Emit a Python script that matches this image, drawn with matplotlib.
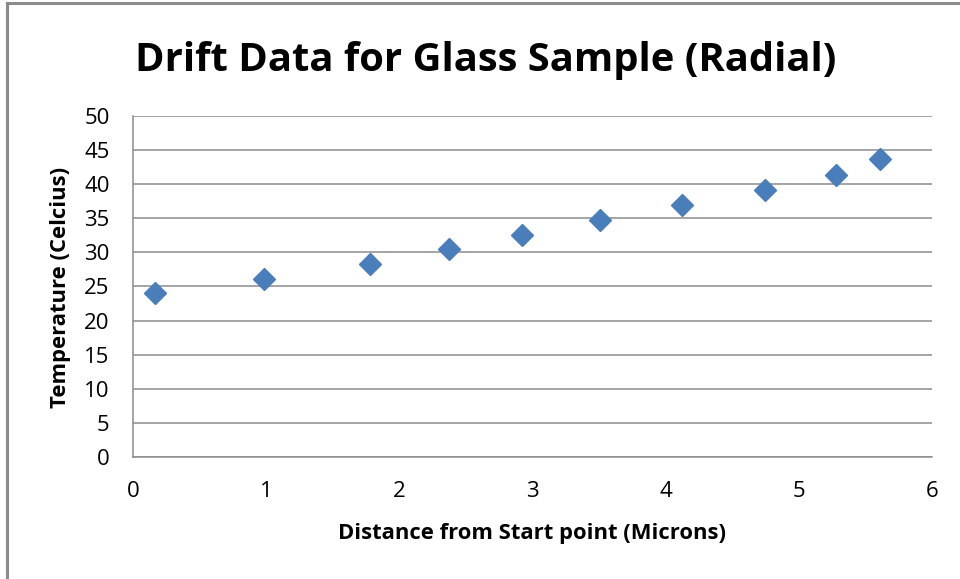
import numpy as np
import matplotlib.pyplot as plt
from matplotlib.lines import Line2D

plt.rcParams['font.family'] = ['Open Sans', 'DejaVu Sans']

# distance from start point (microns) vs temperature (celsius)
distance = [0.16, 0.98, 1.78, 2.37, 2.92, 3.51, 4.12, 4.75, 5.28, 5.61]
temperature = [24.1, 26.1, 28.3, 30.5, 32.6, 34.7, 36.9, 39.2, 41.4, 43.7]

x_ticks = [0, 1, 2, 3, 4, 5, 6]
y_ticks = [0, 5, 10, 15, 20, 25, 30, 35, 40, 45, 50]

fig = plt.figure(figsize=(9.6, 5.79), dpi=100)
ax = fig.add_axes([0.1389, 0.2107, 0.8316, 0.589])

ax.plot(distance, temperature, linestyle='none', marker='D', markersize=11.5,
        color='#4A7EBB', markeredgecolor='#4A7EBB', zorder=3)

ax.set_xlim(0, 6)
ax.set_ylim(0, 50)
ax.set_xticks(x_ticks)
ax.set_yticks(y_ticks)
ax.tick_params(length=0, labelsize=16, colors='#000000')
ax.tick_params(axis='y', pad=17)
ax.tick_params(axis='x', pad=17)
ax.yaxis.grid(True, color='#8C8C8C', linewidth=1.1)
ax.set_axisbelow(True)
for side in ['top', 'right']:
    ax.spines[side].set_visible(False)
for side in ['left', 'bottom']:
    ax.spines[side].set_color('#8C8C8C')
    ax.spines[side].set_linewidth(1.1)

ax.set_xlabel('Distance from Start point (Microns)', fontsize=15.8, fontweight='bold', va='center')
ax.set_ylabel('Temperature (Celcius)', fontsize=15.8, fontweight='bold', va='center')
ax.xaxis.set_label_coords(0.4994, -0.223)
ax.yaxis.set_label_coords(-0.0918, 0.4985)

fig.text(0.506, 0.896, 'Drift Data for Glass Sample (Radial)', fontsize=28.8,
         fontweight='bold', ha='center', va='center')

# frame edges along the top and left of the chart area
fig.add_artist(Line2D([0.0068, 1.0], [0.9948, 0.9948], color='#8C8C8C', linewidth=2.2))
fig.add_artist(Line2D([0.0068, 0.0068], [0.0, 0.9948], color='#8C8C8C', linewidth=2.2))

fig.savefig('out.png', dpi=100, facecolor='white')
